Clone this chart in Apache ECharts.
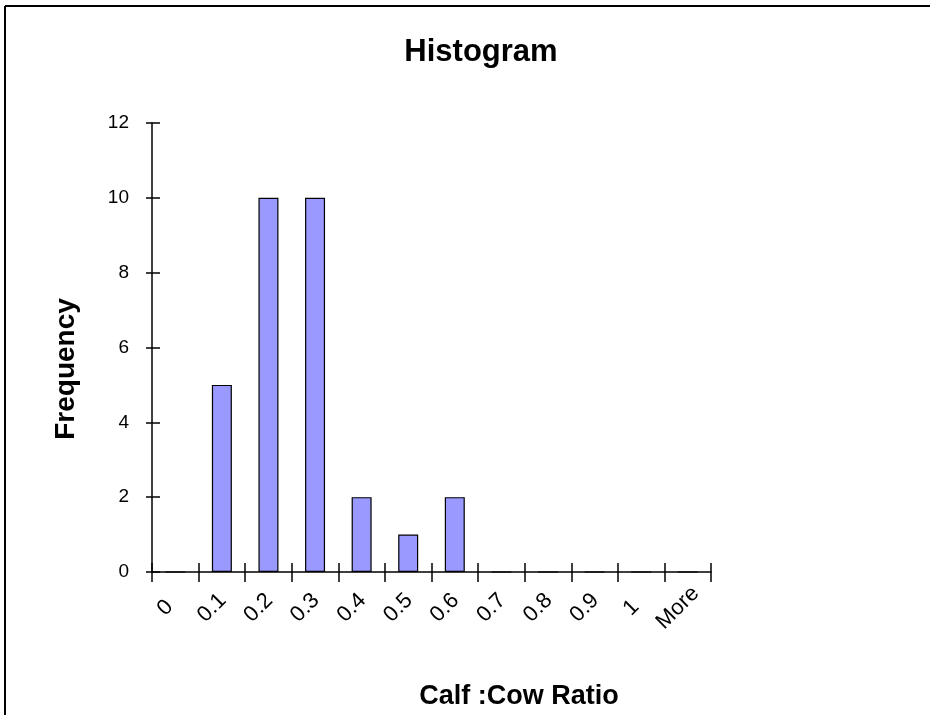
<!DOCTYPE html>
<html>
<head>
<meta charset="utf-8">
<script src="https://cdn.jsdelivr.net/npm/echarts@6/dist/echarts.min.js"></script>
<style>
html,body{margin:0;padding:0;background:#fff;}
#chart{width:930px;height:715px;}
</style>
</head>
<body>
<div id="chart"></div>
<script>
var categories = ['0','0.1','0.2','0.3','0.4','0.5','0.6','0.7','0.8','0.9','1','More'];
var frequency = [0,5,10,10,2,1,2,0,0,0,0,0];
var yTicks = {min:0, max:12, interval:2};
var titleText = 'Histogram';
var xName = 'Calf :Cow Ratio';
var yName = 'Frequency';

var FONT = 'Liberation Sans, Arial, sans-serif';
var chart = echarts.init(document.getElementById('chart'));
var grid = {left:152, right:219, top:123, bottom:143};
chart.setOption({
  animation:false,
  backgroundColor:'#fff',
  title:[
    {text:titleText, left:476, top:32, textAlign:'center',
     textStyle:{fontFamily:FONT, fontWeight:'bold', fontSize:31, color:'#000'}},
    {text:xName, left:514, top:678, textAlign:'center',
     textStyle:{fontFamily:FONT, fontWeight:'bold', fontSize:27, color:'#000'}}
  ],
  grid:grid,
  xAxis:[
    {type:'category', data:categories, position:'bottom', boundaryGap:true,
     axisLine:{lineStyle:{color:'#000', width:1.5}},
     axisTick:{show:true, inside:false, length:10, alignWithLabel:false, lineStyle:{color:'#000', width:1.5}},
     axisLabel:{rotate:45, margin:26, align:'center', verticalAlign:'middle', padding:[0,28,0,0],
       fontFamily:FONT, fontSize:22, color:'#000', interval:0},
     splitLine:{show:false}},
    {type:'category', data:categories, position:'bottom', boundaryGap:true,
     axisLine:{show:false},
     axisTick:{show:true, inside:true, length:9, lineStyle:{color:'#000', width:1.5}},
     axisLabel:{show:false}, splitLine:{show:false}}
  ],
  yAxis:[
    {type:'value', min:yTicks.min, max:yTicks.max, interval:yTicks.interval,
     axisLine:{show:true, lineStyle:{color:'#000', width:1.5}},
     axisTick:{show:true, inside:false, length:6, lineStyle:{color:'#000', width:1.5}},
     axisLabel:{margin:23, fontFamily:FONT, fontSize:19, color:'#000'},
     splitLine:{show:false}},
    {type:'value', min:yTicks.min, max:yTicks.max, interval:yTicks.interval, position:'left',
     axisLine:{show:false},
     axisTick:{show:true, inside:true, length:8, lineStyle:{color:'#000', width:1.5}},
     axisLabel:{show:false}, splitLine:{show:false}}
  ],
  series:[{
    type:'bar', xAxisIndex:0, yAxisIndex:0, data:frequency, barWidth:20,
    itemStyle:{color:'#9999FF', borderColor:'#000', borderWidth:1.2}
  }],
  graphic:[
    {type:'text', x:66, y:369, rotation:Math.PI/2, style:{text:yName, fontFamily:FONT, fontWeight:'bold', fontSize:28, fill:'#000', align:'center', verticalAlign:'middle'}},
    {type:'line', shape:{x1:5, y1:6, x2:930, y2:6}, style:{stroke:'#000', lineWidth:2}},
    {type:'line', shape:{x1:5, y1:6, x2:5, y2:715}, style:{stroke:'#000', lineWidth:2}}
  ]
});
</script>
</body>
</html>
